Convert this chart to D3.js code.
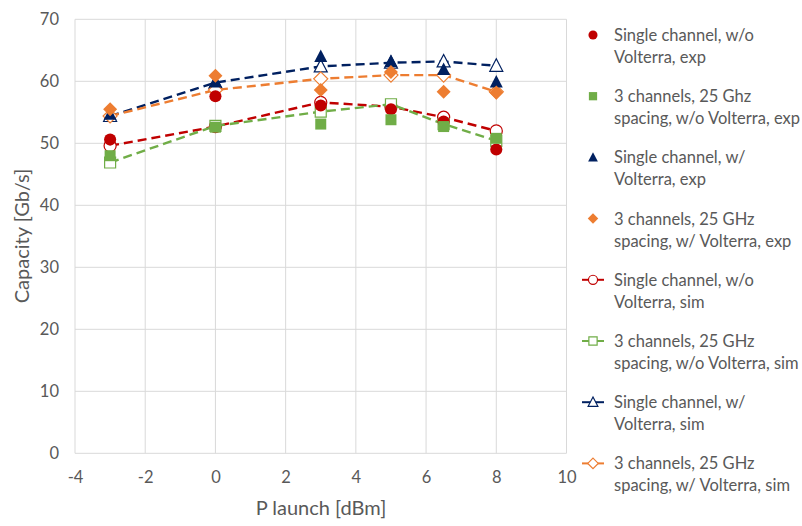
<!DOCTYPE html>
<html><head><meta charset="utf-8">
<script src="https://cdn.jsdelivr.net/npm/d3@7"></script>
<style>body{margin:0;background:#fff}svg{display:block}</style>
</head><body><svg id="c" width="802" height="526"></svg>
<script>
const xVals = [-3, 0, 3, 5, 6.5, 8];
const singleWoExp = [50.6, 57.6, 56.1, 55.5, 53.5, 49.0];
const triWoExp = [48.0, 52.6, 53.1, 53.8, 52.7, 50.8];
const singleWExp = [54.7, 59.9, 64.0, 63.2, 61.9, 59.9];
const triWExp = [55.5, 60.9, 58.6, 61.5, 58.3, 58.2];
const singleWoSim = [49.6, 52.7, 56.6, 55.9, 54.2, 52.0];
const triWoSim = [46.9, 52.8, 55.1, 56.3, 53.1, 50.4];
const singleWSim = [54.4, 59.8, 62.4, 63.0, 63.2, 62.5];
const triWSim = [54.4, 58.6, 60.4, 61.0, 61.0, 58.3];
const xTicks = [-4, -2, 0, 2, 4, 6, 8, 10];
const yTicks = [0, 10, 20, 30, 40, 50, 60, 70];

const series = [
  {name:["Single channel, w/o","Volterra, exp"], v:singleWoExp, c:"#c00000", shape:"circle", fill:true, line:false},
  {name:["3 channels, 25 Ghz","spacing, w/o Volterra, exp"], v:triWoExp, c:"#70ad47", shape:"square", fill:true, line:false},
  {name:["Single channel, w/","Volterra, exp"], v:singleWExp, c:"#002060", shape:"triangle", fill:true, line:false},
  {name:["3 channels, 25 GHz","spacing, w/ Volterra, exp"], v:triWExp, c:"#ed7d31", shape:"diamond", fill:true, line:false},
  {name:["Single channel, w/o","Volterra, sim"], v:singleWoSim, c:"#c00000", shape:"circle", fill:false, line:true},
  {name:["3 channels, 25 GHz","spacing, w/o Volterra, sim"], v:triWoSim, c:"#70ad47", shape:"square", fill:false, line:true},
  {name:["Single channel, w/","Volterra, sim"], v:singleWSim, c:"#002060", shape:"triangle", fill:false, line:true},
  {name:["3 channels, 25 GHz","spacing, w/ Volterra, sim"], v:triWSim, c:"#ed7d31", shape:"diamond", fill:false, line:true}
];

const svg = d3.select("#c");
const font = "Lato, 'Open Sans', sans-serif";
const textCol = "#595959";
const x = d3.scaleLinear().domain([-4, 10]).range([75, 566.5]);
const y = d3.scaleLinear().domain([0, 70]).range([453.3, 19.3]);

svg.append("g").selectAll("line").data(xTicks).join("line")
  .attr("x1", d => x(d)).attr("x2", d => x(d)).attr("y1", y(0)).attr("y2", y(70))
  .attr("stroke", "#d9d9d9").attr("stroke-width", 1);
svg.append("g").selectAll("line").data(yTicks).join("line")
  .attr("x1", x(-4)).attr("x2", x(10)).attr("y1", d => y(d)).attr("y2", d => y(d))
  .attr("stroke", "#d9d9d9").attr("stroke-width", 1);

const fmt = d => String(d);
const xa = svg.append("g").attr("transform", `translate(0,${y(0)})`)
  .call(d3.axisBottom(x).tickValues(xTicks).tickFormat(fmt).tickSize(0).tickPadding(18));
const ya = svg.append("g").attr("transform", `translate(${x(-4)},0)`)
  .call(d3.axisLeft(y).tickValues(yTicks).tickFormat(fmt).tickSize(0).tickPadding(16));
[xa, ya].forEach(g => {
  g.select(".domain").remove();
  g.selectAll("text").attr("fill", textCol).style("font-family", font).style("font-size", "16.5px");
});

svg.append("text").attr("x", 321).attr("y", 515).attr("text-anchor", "middle")
  .attr("fill", textCol).style("font-family", font).style("font-size", "20px").text("P launch [dBm]");
svg.append("text").attr("transform", "translate(29,236) rotate(-90)").attr("text-anchor", "middle")
  .attr("fill", textCol).style("font-family", font).style("font-size", "20px").text("Capacity [Gb/s]");

function shapePath(shape, k) {
  if (shape === "circle") return d3.symbol().type(d3.symbolCircle).size(115 * k * k)();
  if (shape === "square") { const h = 5.5 * k; return `M${-h},${-h}H${h}V${h}H${-h}Z`; }
  if (shape === "triangle") { const w = 6.5 * k, t = 7 * k, b = 5.5 * k; return `M0,${-t}L${w},${b}L${-w},${b}Z`; }
  const r = 7 * k; return `M0,${-r}L${r},0L0,${r}L${-r},0Z`;
}

function drawMarker(g, s, cx, cy, k) {
  g.append("path")
    .attr("d", shapePath(s.shape, k || 1))
    .attr("transform", `translate(${cx},${cy})`)
    .attr("fill", s.fill ? s.c : "#fff")
    .attr("stroke", s.c).attr("stroke-width", s.fill ? 0 : 1.2);
}

const lineGen = d3.line().x((d, i) => x(xVals[i])).y(d => y(d));
const plot = svg.append("g");
const sims = series.filter(s => s.line), exps = series.filter(s => !s.line);
sims.forEach(s => {
  plot.append("path").attr("d", lineGen(s.v)).attr("fill", "none")
    .attr("stroke", s.c).attr("stroke-width", 2.4).attr("stroke-dasharray", "9,5");
  const g = plot.append("g");
  s.v.forEach((v, i) => drawMarker(g, s, x(xVals[i]), y(v)));
});
exps.forEach(s => {
  const g = plot.append("g");
  s.v.forEach((v, i) => drawMarker(g, s, x(xVals[i]), y(v)));
});

const legY0 = 35, legStep = 61.2;
series.forEach((s, i) => {
  const ly = legY0 + i * legStep;
  const g = svg.append("g");
  if (s.line) {
    g.append("line").attr("x1", 582).attr("x2", 604).attr("y1", ly).attr("y2", ly)
      .attr("stroke", s.c).attr("stroke-width", 2);
  }
  drawMarker(g, s, 593, ly, 0.75);
  s.name.forEach((t, j) => {
    g.append("text").attr("x", 614).attr("y", ly + 6 + j * 22)
      .attr("fill", textCol).style("font-family", font).style("font-size", "16.5px").text(t);
  });
});
</script></body></html>
